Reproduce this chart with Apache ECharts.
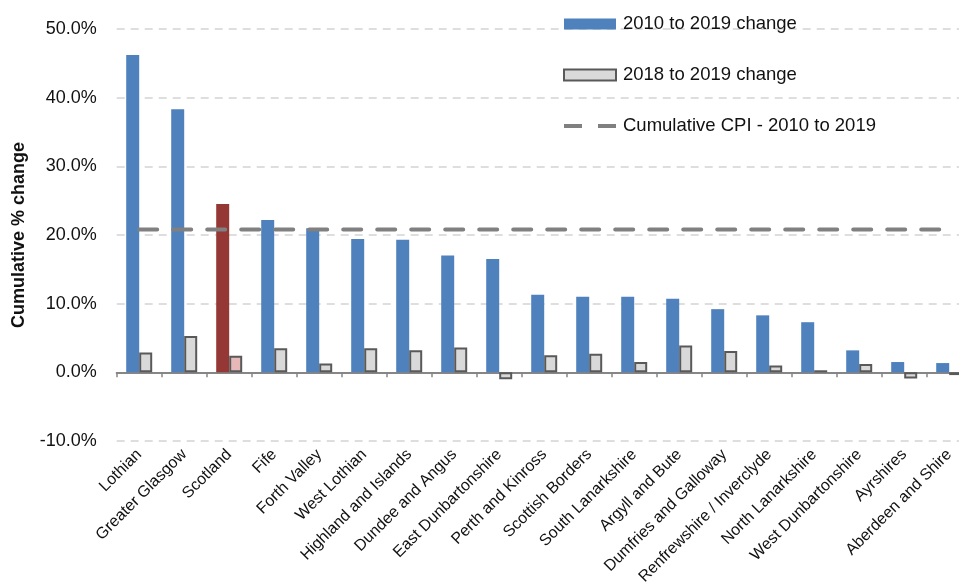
<!DOCTYPE html>
<html>
<head>
<meta charset="utf-8">
<script src="https://cdn.jsdelivr.net/npm/echarts@6/dist/echarts.min.js"></script>
<style>
  html, body { margin: 0; padding: 0; background: #fff; }
  #chart { width: 959px; height: 588px; }
</style>
</head>
<body>
<div id="chart"></div>
<script>
var areas = ['Lothian', 'Greater Glasgow', 'Scotland', 'Fife', 'Forth Valley', 'West Lothian',
  'Highland and Islands', 'Dundee and Angus', 'East Dunbartonshire', 'Perth and Kinross',
  'Scottish Borders', 'South Lanarkshire', 'Argyll and Bute', 'Dumfries and Galloway',
  'Renfrewshire / Inverclyde', 'North Lanarkshire', 'West Dunbartonshire', 'Ayrshires',
  'Aberdeen and Shire'];

// % change
var change2010 = [46.2, 38.3, 24.5, 22.2, 21.0, 19.4, 19.3, 17.0, 16.5, 11.3,
  11.0, 11.0, 10.7, 9.2, 8.3, 7.3, 3.2, 1.5, 1.35];
var change2018 = [2.9, 5.3, 2.4, 3.5, 1.3, 3.5, 3.2, 3.6, -1.0, 2.5,
  2.7, 1.5, 3.9, 3.1, 1.0, 0.3, 1.2, -0.9, -0.4];
var cpi = 20.8;

var yTicks = [-10, 0, 10, 20, 30, 40, 50];

var highlight = 'Scotland';
var font = 'Liberation Sans';

var chart = echarts.init(document.getElementById('chart'));

var blueData = change2010.map(function (v, i) {
  if (areas[i] == highlight) {
    return { value: v, itemStyle: { color: '#953735' } };
  }
  return v;
});

var greyData = change2018.map(function (v, i) {
  if (areas[i] == highlight) {
    return { value: v, itemStyle: { color: '#E6B9B8' } };
  }
  return v;
});

var cpiData = areas.map(function () { return cpi; });

var option = {
  animation: false,
  textStyle: { fontFamily: font },
  grid: {
    left: 116.7, right: -12.7, top: 29, bottom: 147,
    containLabel: false, outerBoundsMode: 'none'
  },
  legend: {
    orient: 'vertical',
    left: 563,
    top: 14,
    padding: 0,
    itemWidth: 52,
    itemHeight: 11,
    itemGap: 31,
    textStyle: { fontSize: 18.5, color: '#111', lineHeight: 20, fontFamily: font, padding: [0, 0, 0, 2] },
    data: [
      { name: '2010 to 2019 change', icon: 'rect' },
      { name: '2018 to 2019 change', icon: 'rect' },
      { name: 'Cumulative CPI - 2010 to 2019', icon: 'path://M0,0 h18 v4 h-18z M34,0 h18 v4 h-18z' }
    ]
  },
  xAxis: {
    type: 'category',
    data: areas,
    axisLine: { lineStyle: { color: '#868686', width: 2 } },
    axisTick: { show: true, length: 5, lineStyle: { color: '#868686', width: 1.5 } },
    axisLabel: { interval: 0, rotate: 45, margin: 11, fontSize: 16, color: '#111', fontFamily: font }
  },
  yAxis: {
    type: 'value',
    min: yTicks[0],
    max: yTicks[yTicks.length - 1],
    interval: 10,
    name: 'Cumulative % change',
    nameLocation: 'middle',
    nameGap: 89,
    nameTextStyle: { fontSize: 18, fontWeight: 'bold', color: '#111', fontFamily: font },
    axisLine: { show: false },
    axisTick: { show: false },
    axisLabel: {
      fontSize: 18, color: '#111', margin: 20, fontFamily: font,
      formatter: function (v) { return v.toFixed(1) + '%'; }
    },
    splitLine: { lineStyle: { color: '#D4D4D4', width: 1.5, type: [8, 6] } }
  },
  series: [
    {
      name: '2010 to 2019 change',
      type: 'bar',
      barWidth: 13,
      barGap: '0%',
      itemStyle: { color: '#4F81BD' },
      data: blueData
    },
    {
      name: '2018 to 2019 change',
      type: 'bar',
      barWidth: 13,
      barGap: '0%',
      itemStyle: { color: '#D9D9D9', borderColor: '#595959', borderWidth: 2 },
      data: greyData
    },
    {
      name: 'Cumulative CPI - 2010 to 2019',
      type: 'line',
      symbol: 'none',
      z: 5,
      lineStyle: { color: '#808080', width: 4, type: [18, 16], cap: 'round' },
      itemStyle: { color: '#808080' },
      data: cpiData
    }
  ]
};

chart.setOption(option);
</script>
</body>
</html>
